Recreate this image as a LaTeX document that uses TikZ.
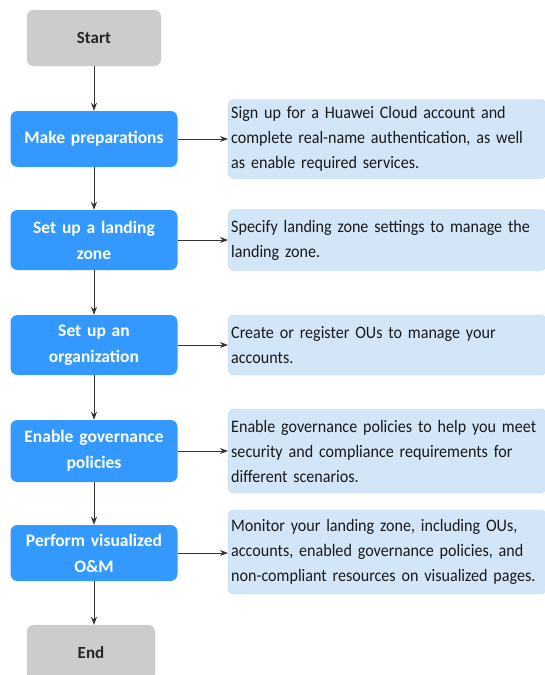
\documentclass[tikz,border=0pt]{standalone}
\usepackage{fontspec}
\setmainfont{Carlito}
\newfontfamily\descfont[FakeStretch=0.92]{Carlito}
\usetikzlibrary{arrows.meta}
\definecolor{stepblue}{HTML}{3399FF}
\definecolor{termgray}{HTML}{CCCCCC}
\definecolor{descblue}{HTML}{D3E6F8}
\definecolor{descedge}{HTML}{C0D6EC}
\definecolor{linegray}{HTML}{333333}
\tikzset{
  x=1pt,y=-1pt,
  term/.style={draw=termgray!90!black!60,fill=termgray,rounded corners=7pt,minimum width=134pt,minimum height=56pt,font=\fontsize{17}{20}\selectfont\bfseries,text=black!85,inner sep=0pt},
  stepbox/.style={fill=stepblue,rounded corners=7pt,minimum width=167pt,text width=164pt,align=center,font=\fontsize{17.5}{26}\selectfont\bfseries,text=white,inner sep=0pt},
  desc/.style={draw=descedge,fill=descblue,rounded corners=6pt,minimum width=317pt,text width=312pt,align=left,font=\descfont\fontsize{17.5}{25}\selectfont,text=black!90,inner xsep=3pt,inner ysep=0pt,anchor=west},
  conn/.style={draw=linegray,line width=1pt,-{Stealth[length=8pt,width=6pt]}}
}
\begin{document}
\begin{tikzpicture}
\useasboundingbox (0,0) rectangle (545,675);
\node[term] (start) at (94,38) {Start};
\node[stepbox,minimum height=56pt] (s1) at (94,139) {Make preparations};
\node[stepbox,minimum height=60pt] (s2) at (94,240) {Set up a landing\\zone};
\node[stepbox,minimum height=60pt] (s3) at (94,345) {Set up an\\organization};
\node[stepbox,minimum height=62pt] (s4) at (94,451) {Enable governance\\policies};
\node[stepbox,minimum height=56pt] (s5) at (94,553) {Perform visualized\\O\&M};
\node[term,minimum width=128pt,minimum height=56pt] (end) at (91,653) {End};

\node[desc,minimum height=79pt] (d1) at (228,139) {Sign up for a Huawei Cloud account and\\complete real-name authentication, as well\\as enable required services.};
\node[desc,minimum height=61pt] (d2) at (228,240) {Specify landing zone settings to manage the\\landing zone.};
\node[desc,minimum height=60pt] (d3) at (228,345) {Create or register OUs to manage your\\accounts.};
\node[desc,minimum height=84pt] (d4) at (228,451) {Enable governance policies to help you meet\\security and compliance requirements for\\different scenarios.};
\node[desc,minimum height=84pt] (d5) at (228,552) {Monitor your landing zone, including OUs,\\accounts, enabled governance policies, and\\non-compliant resources on visualized pages.};

\draw[conn] (start) -- (s1);
\draw[conn] (s1) -- (s2);
\draw[conn] (s2) -- (s3);
\draw[conn] (s3) -- (s4);
\draw[conn] (s4) -- (s5);
\draw[conn] (s5.south) -- (s5.south |- end.north);
\draw[conn] (s1) -- (d1);
\draw[conn] (s2) -- (d2);
\draw[conn] (s3) -- (d3);
\draw[conn] (s4) -- (d4);
\draw[conn] (s5) -- (s5.east -| d5.west);
\end{tikzpicture}
\end{document}
